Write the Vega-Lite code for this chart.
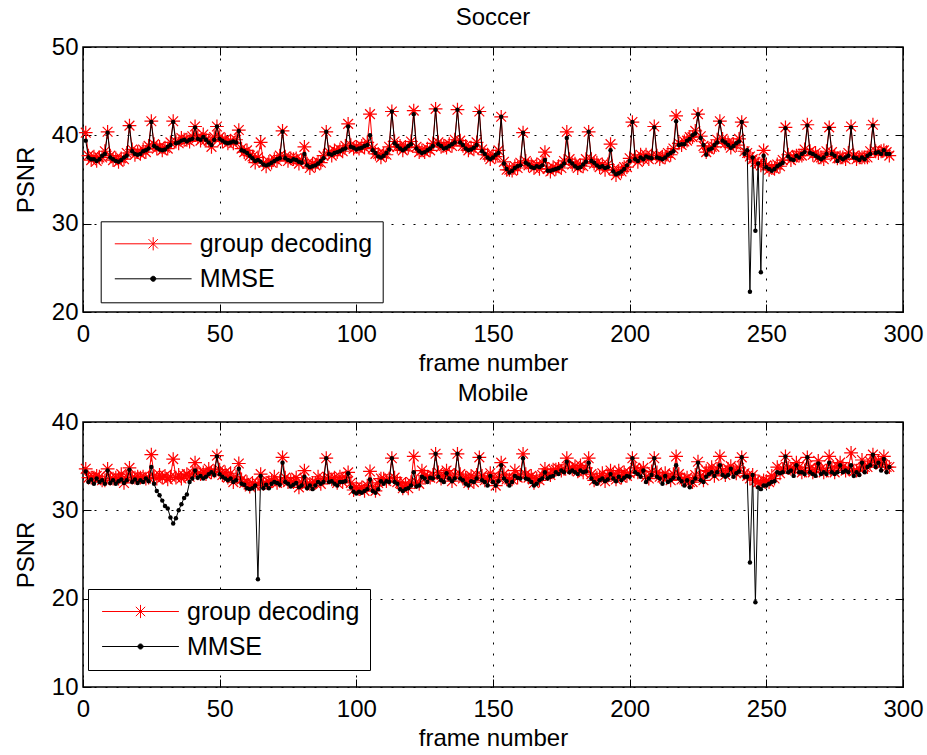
{
"$schema": "https://vega.github.io/schema/vega-lite/v6.json",
"background": "white",
"padding": {"left": 13, "top": 5, "right": 5, "bottom": 5},
"datasets": {
"soccer": [
{"f":1,"g":40.3,"m":39.4},{"f":2,"g":37.7,"m":37.5},{"f":3,"g":37.2,"m":37.3},{"f":4,"g":37.6,"m":37.3},{"f":5,"g":37.1,"m":37.1},{"f":6,"g":37.5,"m":37.3},{"f":7,"g":37.5,"m":37.7},{"f":8,"g":38.2,"m":37.9},
{"f":9,"g":40.4,"m":40.3},{"f":10,"g":37.7,"m":37.5},{"f":11,"g":37.2,"m":37.3},{"f":12,"g":37.4,"m":37.1},{"f":13,"g":37.0,"m":37.0},{"f":14,"g":37.4,"m":37.2},{"f":15,"g":37.3,"m":37.5},{"f":16,"g":38.0,"m":37.7},
{"f":17,"g":41.1,"m":41.0},{"f":18,"g":38.4,"m":38.2},{"f":19,"g":37.8,"m":37.9},{"f":20,"g":38.1,"m":37.8},{"f":21,"g":37.9,"m":37.9},{"f":22,"g":38.4,"m":38.2},{"f":23,"g":38.1,"m":38.3},{"f":24,"g":38.8,"m":38.5},
{"f":25,"g":41.6,"m":41.5},{"f":26,"g":39.0,"m":38.8},{"f":27,"g":38.5,"m":38.6},{"f":28,"g":38.7,"m":38.4},{"f":29,"g":38.3,"m":38.3},{"f":30,"g":38.6,"m":38.4},{"f":31,"g":38.5,"m":38.7},{"f":32,"g":39.2,"m":38.9},
{"f":33,"g":41.6,"m":41.5},{"f":34,"g":39.3,"m":39.1},{"f":35,"g":39.1,"m":39.2},{"f":36,"g":39.7,"m":39.4},{"f":37,"g":39.5,"m":39.5},{"f":38,"g":39.5,"m":39.3},{"f":39,"g":39.3,"m":39.5},{"f":40,"g":39.9,"m":39.6},
{"f":41,"g":41.0,"m":40.9},{"f":42,"g":39.8,"m":39.6},{"f":43,"g":39.4,"m":39.5},{"f":44,"g":40.1,"m":39.8},{"f":45,"g":39.5,"m":39.5},{"f":46,"g":39.4,"m":39.2},{"f":47,"g":38.7,"m":38.9},{"f":48,"g":39.8,"m":39.5},
{"f":49,"g":41.0,"m":41.0},{"f":50,"g":39.8,"m":39.6},{"f":51,"g":39.3,"m":39.4},{"f":52,"g":39.5,"m":39.2},{"f":53,"g":39.1,"m":39.1},{"f":54,"g":39.4,"m":39.2},{"f":55,"g":39.1,"m":39.3},{"f":56,"g":39.5,"m":39.2},
{"f":57,"g":40.6,"m":40.5},{"f":58,"g":38.5,"m":38.3},{"f":59,"g":38.1,"m":38.2},{"f":60,"g":38.3,"m":38.0},{"f":61,"g":37.7,"m":37.7},{"f":62,"g":37.6,"m":37.4},{"f":63,"g":36.9,"m":37.1},{"f":64,"g":37.5,"m":37.2},
{"f":65,"g":39.2,"m":37.0},{"f":66,"g":36.9,"m":36.7},{"f":67,"g":36.5,"m":36.6},{"f":68,"g":37.0,"m":36.7},{"f":69,"g":36.9,"m":36.9},{"f":70,"g":37.3,"m":37.1},{"f":71,"g":37.1,"m":37.3},{"f":72,"g":37.7,"m":37.4},
{"f":73,"g":40.5,"m":40.4},{"f":74,"g":37.6,"m":37.4},{"f":75,"g":37.1,"m":37.2},{"f":76,"g":37.4,"m":37.1},{"f":77,"g":37.3,"m":37.3},{"f":78,"g":37.4,"m":37.2},{"f":79,"g":36.8,"m":37.0},{"f":80,"g":37.2,"m":36.9},
{"f":81,"g":38.7,"m":37.9},{"f":82,"g":36.8,"m":36.6},{"f":83,"g":36.3,"m":36.4},{"f":84,"g":36.8,"m":36.5},{"f":85,"g":36.6,"m":36.6},{"f":86,"g":37.0,"m":36.8},{"f":87,"g":36.9,"m":37.1},{"f":88,"g":37.7,"m":37.4},
{"f":89,"g":40.4,"m":40.4},{"f":90,"g":38.1,"m":37.9},{"f":91,"g":37.7,"m":37.8},{"f":92,"g":38.3,"m":38.0},{"f":93,"g":38.1,"m":38.1},{"f":94,"g":38.4,"m":38.2},{"f":95,"g":38.2,"m":38.4},{"f":96,"g":38.8,"m":38.5},
{"f":97,"g":41.3,"m":41.0},{"f":98,"g":38.9,"m":38.7},{"f":99,"g":38.5,"m":38.6},{"f":100,"g":38.7,"m":38.4},{"f":101,"g":38.5,"m":38.5},{"f":102,"g":38.8,"m":38.6},{"f":103,"g":38.6,"m":38.8},{"f":104,"g":39.2,"m":38.9},
{"f":105,"g":42.4,"m":40.0},{"f":106,"g":38.5,"m":38.3},{"f":107,"g":37.9,"m":38.0},{"f":108,"g":37.9,"m":37.6},{"f":109,"g":37.5,"m":37.5},{"f":110,"g":37.9,"m":37.7},{"f":111,"g":37.8,"m":38.0},{"f":112,"g":38.7,"m":38.4},
{"f":113,"g":42.7,"m":42.7},{"f":114,"g":39.3,"m":39.1},{"f":115,"g":38.7,"m":38.8},{"f":116,"g":38.8,"m":38.5},{"f":117,"g":38.3,"m":38.3},{"f":118,"g":38.7,"m":38.5},{"f":119,"g":38.6,"m":38.8},{"f":120,"g":39.3,"m":39.0},
{"f":121,"g":42.8,"m":42.4},{"f":122,"g":38.7,"m":38.5},{"f":123,"g":38.1,"m":38.2},{"f":124,"g":38.3,"m":38.0},{"f":125,"g":38.1,"m":38.1},{"f":126,"g":38.5,"m":38.3},{"f":127,"g":38.3,"m":38.5},{"f":128,"g":39.1,"m":38.8},
{"f":129,"g":43.0,"m":42.9},{"f":130,"g":39.2,"m":39.0},{"f":131,"g":38.7,"m":38.8},{"f":132,"g":38.8,"m":38.5},{"f":133,"g":38.6,"m":38.6},{"f":134,"g":39.0,"m":38.8},{"f":135,"g":38.8,"m":39.0},{"f":136,"g":39.5,"m":39.2},
{"f":137,"g":42.9,"m":42.9},{"f":138,"g":39.4,"m":39.2},{"f":139,"g":38.8,"m":38.9},{"f":140,"g":38.8,"m":38.5},{"f":141,"g":38.3,"m":38.3},{"f":142,"g":38.6,"m":38.4},{"f":143,"g":38.4,"m":38.6},{"f":144,"g":39.2,"m":38.9},
{"f":145,"g":42.7,"m":42.6},{"f":146,"g":38.4,"m":38.2},{"f":147,"g":37.8,"m":37.9},{"f":148,"g":37.8,"m":37.5},{"f":149,"g":37.3,"m":37.3},{"f":150,"g":37.7,"m":37.5},{"f":151,"g":37.6,"m":37.8},{"f":152,"g":38.3,"m":38.0},
{"f":153,"g":42.1,"m":42.1},{"f":154,"g":37.0,"m":36.8},{"f":155,"g":36.1,"m":36.2},{"f":156,"g":36.1,"m":35.8},{"f":157,"g":36.0,"m":36.0},{"f":158,"g":36.5,"m":36.3},{"f":159,"g":36.3,"m":36.5},{"f":160,"g":36.9,"m":36.6},
{"f":161,"g":40.3,"m":40.3},{"f":162,"g":37.1,"m":36.9},{"f":163,"g":36.6,"m":36.7},{"f":164,"g":36.7,"m":36.4},{"f":165,"g":36.3,"m":36.3},{"f":166,"g":36.7,"m":36.5},{"f":167,"g":36.2,"m":36.4},{"f":168,"g":36.9,"m":36.6},
{"f":169,"g":38.1,"m":37.2},{"f":170,"g":36.2,"m":36.0},{"f":171,"g":35.9,"m":36.0},{"f":172,"g":36.4,"m":36.1},{"f":173,"g":36.2,"m":36.2},{"f":174,"g":36.5,"m":36.3},{"f":175,"g":36.3,"m":36.5},{"f":176,"g":37.1,"m":36.8},
{"f":177,"g":40.4,"m":39.7},{"f":178,"g":37.3,"m":37.1},{"f":179,"g":36.7,"m":36.8},{"f":180,"g":36.8,"m":36.5},{"f":181,"g":36.3,"m":36.3},{"f":182,"g":36.6,"m":36.4},{"f":183,"g":36.5,"m":36.7},{"f":184,"g":37.3,"m":37.0},
{"f":185,"g":40.4,"m":40.4},{"f":186,"g":37.3,"m":37.1},{"f":187,"g":36.8,"m":36.9},{"f":188,"g":36.9,"m":36.6},{"f":189,"g":36.4,"m":36.4},{"f":190,"g":36.7,"m":36.5},{"f":191,"g":36.1,"m":36.3},{"f":192,"g":36.7,"m":36.4},
{"f":193,"g":39.0,"m":38.3},{"f":194,"g":36.1,"m":35.9},{"f":195,"g":35.5,"m":35.6},{"f":196,"g":36.0,"m":35.7},{"f":197,"g":35.9,"m":35.9},{"f":198,"g":36.4,"m":36.2},{"f":199,"g":36.4,"m":36.6},{"f":200,"g":37.4,"m":37.1},
{"f":201,"g":41.5,"m":41.5},{"f":202,"g":37.5,"m":37.3},{"f":203,"g":37.0,"m":37.1},{"f":204,"g":37.8,"m":37.5},{"f":205,"g":37.3,"m":37.3},{"f":206,"g":37.8,"m":37.6},{"f":207,"g":37.3,"m":37.5},{"f":208,"g":37.7,"m":37.4},
{"f":209,"g":41.0,"m":40.9},{"f":210,"g":37.7,"m":37.5},{"f":211,"g":37.3,"m":37.4},{"f":212,"g":37.6,"m":37.3},{"f":213,"g":37.5,"m":37.5},{"f":214,"g":38.0,"m":37.8},{"f":215,"g":37.8,"m":38.0},{"f":216,"g":38.5,"m":38.2},
{"f":217,"g":42.2,"m":41.6},{"f":218,"g":39.1,"m":38.9},{"f":219,"g":38.9,"m":39.0},{"f":220,"g":39.3,"m":39.0},{"f":221,"g":39.4,"m":39.4},{"f":222,"g":39.8,"m":39.6},{"f":223,"g":39.8,"m":40.0},{"f":224,"g":40.5,"m":40.2},
{"f":225,"g":42.4,"m":42.4},{"f":226,"g":39.9,"m":39.7},{"f":227,"g":38.8,"m":38.9},{"f":228,"g":38.1,"m":37.8},{"f":229,"g":38.4,"m":38.4},{"f":230,"g":38.7,"m":38.5},{"f":231,"g":38.7,"m":38.9},{"f":232,"g":39.5,"m":39.2},
{"f":233,"g":41.6,"m":41.5},{"f":234,"g":39.6,"m":39.4},{"f":235,"g":39.1,"m":39.2},{"f":236,"g":39.2,"m":38.9},{"f":237,"g":38.6,"m":38.6},{"f":238,"g":39.0,"m":38.8},{"f":239,"g":38.9,"m":39.1},{"f":240,"g":39.6,"m":39.3},
{"f":241,"g":41.5,"m":41.5},{"f":242,"g":38.2,"m":37.9},{"f":243,"g":38.0,"m":38.3},{"f":244,"g":37.6,"m":22.3},{"f":245,"g":37.3,"m":37.5},{"f":246,"g":37.0,"m":29.2},{"f":247,"g":36.8,"m":36.8},{"f":248,"g":36.6,"m":24.5},
{"f":249,"g":38.3,"m":37.7},{"f":250,"g":36.6,"m":36.4},{"f":251,"g":36.1,"m":36.2},{"f":252,"g":36.3,"m":36.0},{"f":253,"g":36.2,"m":36.2},{"f":254,"g":36.7,"m":36.5},{"f":255,"g":36.5,"m":36.7},{"f":256,"g":37.2,"m":36.9},
{"f":257,"g":40.9,"m":40.8},{"f":258,"g":37.8,"m":37.6},{"f":259,"g":37.2,"m":37.3},{"f":260,"g":37.5,"m":37.2},{"f":261,"g":37.7,"m":37.7},{"f":262,"g":37.7,"m":37.5},{"f":263,"g":37.7,"m":37.9},{"f":264,"g":38.4,"m":38.1},
{"f":265,"g":41.2,"m":41.1},{"f":266,"g":38.2,"m":38.0},{"f":267,"g":37.8,"m":37.9},{"f":268,"g":38.0,"m":37.7},{"f":269,"g":37.5,"m":37.5},{"f":270,"g":37.5,"m":37.3},{"f":271,"g":37.3,"m":37.5},{"f":272,"g":38.2,"m":37.9},
{"f":273,"g":40.9,"m":40.8},{"f":274,"g":38.1,"m":37.9},{"f":275,"g":37.6,"m":37.7},{"f":276,"g":37.4,"m":37.1},{"f":277,"g":37.5,"m":37.5},{"f":278,"g":37.5,"m":37.3},{"f":279,"g":37.3,"m":37.5},{"f":280,"g":38.0,"m":37.7},
{"f":281,"g":41.0,"m":40.9},{"f":282,"g":37.7,"m":37.5},{"f":283,"g":37.3,"m":37.4},{"f":284,"g":37.5,"m":37.2},{"f":285,"g":37.5,"m":37.5},{"f":286,"g":37.5,"m":37.3},{"f":287,"g":37.5,"m":37.7},{"f":288,"g":38.2,"m":37.9},
{"f":289,"g":41.2,"m":41.1},{"f":290,"g":38.2,"m":38.0},{"f":291,"g":38.0,"m":38.1},{"f":292,"g":38.2,"m":37.9},{"f":293,"g":38.3,"m":38.3},{"f":294,"g":38.1,"m":37.9},{"f":295,"g":37.7,"m":37.9}
],
"mobile": [
{"f":1,"g":34.7,"m":34.4},{"f":2,"g":33.7,"m":33.2},{"f":3,"g":33.7,"m":33.5},{"f":4,"g":33.7,"m":33.0},{"f":5,"g":33.9,"m":33.6},{"f":6,"g":33.8,"m":33.2},{"f":7,"g":33.4,"m":33.4},{"f":8,"g":33.4,"m":33.0},
{"f":9,"g":34.7,"m":34.5},{"f":10,"g":33.6,"m":33.1},{"f":11,"g":33.6,"m":33.4},{"f":12,"g":33.7,"m":33.0},{"f":13,"g":33.6,"m":33.3},{"f":14,"g":34.1,"m":33.5},{"f":15,"g":33.1,"m":33.1},{"f":16,"g":33.8,"m":33.4},
{"f":17,"g":34.8,"m":34.6},{"f":18,"g":33.7,"m":33.2},{"f":19,"g":33.7,"m":33.5},{"f":20,"g":33.8,"m":33.1},{"f":21,"g":33.7,"m":33.4},{"f":22,"g":33.8,"m":33.2},{"f":23,"g":33.6,"m":33.6},{"f":24,"g":33.7,"m":33.3},
{"f":25,"g":36.3,"m":34.9},{"f":26,"g":33.9,"m":33.0},{"f":27,"g":33.6,"m":32.2},{"f":28,"g":34.0,"m":31.7},{"f":29,"g":33.7,"m":31.1},{"f":30,"g":33.9,"m":30.5},{"f":31,"g":33.5,"m":30.2},{"f":32,"g":33.8,"m":29.2},
{"f":33,"g":35.8,"m":28.5},{"f":34,"g":33.7,"m":29.1},{"f":35,"g":34.0,"m":30.0},{"f":36,"g":33.6,"m":30.7},{"f":37,"g":33.9,"m":31.4},{"f":38,"g":34.1,"m":31.8},{"f":39,"g":33.8,"m":33.2},{"f":40,"g":34.2,"m":33.6},
{"f":41,"g":35.4,"m":34.5},{"f":42,"g":34.2,"m":33.7},{"f":43,"g":34.1,"m":33.9},{"f":44,"g":34.3,"m":33.6},{"f":45,"g":34.1,"m":33.8},{"f":46,"g":34.7,"m":34.1},{"f":47,"g":34.3,"m":34.3},{"f":48,"g":34.4,"m":34.0},
{"f":49,"g":36.2,"m":36.1},{"f":50,"g":34.6,"m":34.1},{"f":51,"g":34.0,"m":33.8},{"f":52,"g":34.3,"m":33.6},{"f":53,"g":33.7,"m":33.4},{"f":54,"g":34.2,"m":33.6},{"f":55,"g":33.2,"m":33.2},{"f":56,"g":33.8,"m":33.4},
{"f":57,"g":35.3,"m":34.7},{"f":58,"g":33.5,"m":33.0},{"f":59,"g":33.1,"m":32.9},{"f":60,"g":33.2,"m":32.5},{"f":61,"g":32.7,"m":32.4},{"f":62,"g":33.1,"m":32.5},{"f":63,"g":32.8,"m":32.8},{"f":64,"g":33.0,"m":22.2},
{"f":65,"g":34.1,"m":33.9},{"f":66,"g":33.0,"m":32.5},{"f":67,"g":33.1,"m":32.9},{"f":68,"g":33.2,"m":32.5},{"f":69,"g":33.3,"m":33.0},{"f":70,"g":33.8,"m":33.2},{"f":71,"g":33.1,"m":33.1},{"f":72,"g":33.3,"m":32.9},
{"f":73,"g":36.0,"m":35.4},{"f":74,"g":33.7,"m":33.2},{"f":75,"g":33.2,"m":33.0},{"f":76,"g":33.4,"m":32.7},{"f":77,"g":33.2,"m":32.9},{"f":78,"g":33.7,"m":33.1},{"f":79,"g":32.6,"m":32.6},{"f":80,"g":33.2,"m":32.8},
{"f":81,"g":34.5,"m":33.8},{"f":82,"g":33.0,"m":32.5},{"f":83,"g":33.0,"m":32.8},{"f":84,"g":33.1,"m":32.4},{"f":85,"g":33.1,"m":32.8},{"f":86,"g":33.8,"m":33.2},{"f":87,"g":33.0,"m":33.0},{"f":88,"g":33.6,"m":33.2},
{"f":89,"g":35.9,"m":35.9},{"f":90,"g":33.7,"m":33.2},{"f":91,"g":33.5,"m":33.3},{"f":92,"g":33.7,"m":33.0},{"f":93,"g":33.1,"m":32.8},{"f":94,"g":33.8,"m":33.2},{"f":95,"g":33.2,"m":33.2},{"f":96,"g":33.7,"m":33.3},
{"f":97,"g":34.3,"m":34.2},{"f":98,"g":33.1,"m":32.6},{"f":99,"g":32.3,"m":32.1},{"f":100,"g":32.6,"m":31.9},{"f":101,"g":32.4,"m":32.1},{"f":102,"g":32.6,"m":32.0},{"f":103,"g":32.2,"m":32.2},{"f":104,"g":32.8,"m":32.4},
{"f":105,"g":34.4,"m":33.5},{"f":106,"g":32.7,"m":32.2},{"f":107,"g":32.2,"m":32.0},{"f":108,"g":33.1,"m":32.4},{"f":109,"g":33.6,"m":33.3},{"f":110,"g":33.6,"m":33.0},{"f":111,"g":33.3,"m":33.3},{"f":112,"g":33.6,"m":33.2},
{"f":113,"g":35.9,"m":35.9},{"f":114,"g":33.7,"m":33.2},{"f":115,"g":33.2,"m":33.0},{"f":116,"g":33.1,"m":32.4},{"f":117,"g":32.5,"m":32.2},{"f":118,"g":33.0,"m":32.4},{"f":119,"g":32.5,"m":32.5},{"f":120,"g":33.2,"m":32.8},
{"f":121,"g":36.1,"m":34.3},{"f":122,"g":33.2,"m":32.7},{"f":123,"g":33.0,"m":32.8},{"f":124,"g":34.5,"m":33.8},{"f":125,"g":33.9,"m":33.6},{"f":126,"g":33.8,"m":33.2},{"f":127,"g":33.7,"m":33.7},{"f":128,"g":34.0,"m":33.6},
{"f":129,"g":36.4,"m":36.4},{"f":130,"g":34.3,"m":33.8},{"f":131,"g":33.6,"m":33.4},{"f":132,"g":33.9,"m":33.2},{"f":133,"g":34.5,"m":34.2},{"f":134,"g":34.2,"m":33.6},{"f":135,"g":33.3,"m":33.3},{"f":136,"g":34.0,"m":33.6},
{"f":137,"g":36.4,"m":36.4},{"f":138,"g":34.1,"m":33.6},{"f":139,"g":33.6,"m":33.4},{"f":140,"g":33.7,"m":33.0},{"f":141,"g":33.1,"m":32.8},{"f":142,"g":33.9,"m":33.3},{"f":143,"g":33.2,"m":33.2},{"f":144,"g":34.0,"m":33.6},
{"f":145,"g":36.0,"m":36.0},{"f":146,"g":33.9,"m":33.4},{"f":147,"g":33.4,"m":33.2},{"f":148,"g":33.5,"m":32.8},{"f":149,"g":34.2,"m":33.9},{"f":150,"g":33.8,"m":33.2},{"f":151,"g":32.8,"m":32.8},{"f":152,"g":33.7,"m":33.3},
{"f":153,"g":35.4,"m":35.1},{"f":154,"g":34.1,"m":33.6},{"f":155,"g":33.5,"m":33.3},{"f":156,"g":33.5,"m":32.8},{"f":157,"g":33.5,"m":33.2},{"f":158,"g":34.5,"m":33.9},{"f":159,"g":33.7,"m":33.7},{"f":160,"g":34.0,"m":33.6},
{"f":161,"g":36.4,"m":35.9},{"f":162,"g":34.1,"m":33.6},{"f":163,"g":33.7,"m":33.5},{"f":164,"g":33.9,"m":33.2},{"f":165,"g":33.1,"m":32.8},{"f":166,"g":33.6,"m":33.0},{"f":167,"g":33.4,"m":33.4},{"f":168,"g":34.0,"m":33.6},
{"f":169,"g":34.7,"m":34.3},{"f":170,"g":34.1,"m":33.6},{"f":171,"g":34.0,"m":33.8},{"f":172,"g":34.6,"m":33.9},{"f":173,"g":34.6,"m":34.3},{"f":174,"g":34.7,"m":34.1},{"f":175,"g":34.5,"m":34.5},{"f":176,"g":34.7,"m":34.3},
{"f":177,"g":35.9,"m":35.5},{"f":178,"g":34.8,"m":34.3},{"f":179,"g":34.7,"m":34.5},{"f":180,"g":35.0,"m":34.3},{"f":181,"g":34.4,"m":34.1},{"f":182,"g":35.1,"m":34.5},{"f":183,"g":34.3,"m":34.3},{"f":184,"g":34.8,"m":34.4},
{"f":185,"g":35.9,"m":35.4},{"f":186,"g":34.1,"m":33.6},{"f":187,"g":33.4,"m":33.2},{"f":188,"g":33.7,"m":33.0},{"f":189,"g":33.7,"m":33.4},{"f":190,"g":34.2,"m":33.6},{"f":191,"g":33.3,"m":33.3},{"f":192,"g":33.9,"m":33.5},
{"f":193,"g":34.5,"m":34.1},{"f":194,"g":34.1,"m":33.6},{"f":195,"g":33.5,"m":33.3},{"f":196,"g":34.5,"m":33.8},{"f":197,"g":33.7,"m":33.4},{"f":198,"g":34.3,"m":33.7},{"f":199,"g":33.9,"m":33.9},{"f":200,"g":34.2,"m":33.8},
{"f":201,"g":35.9,"m":35.9},{"f":202,"g":34.8,"m":34.3},{"f":203,"g":34.3,"m":34.1},{"f":204,"g":34.5,"m":33.8},{"f":205,"g":34.8,"m":34.5},{"f":206,"g":33.8,"m":33.2},{"f":207,"g":33.6,"m":33.6},{"f":208,"g":34.4,"m":34.0},
{"f":209,"g":35.9,"m":35.9},{"f":210,"g":34.3,"m":33.8},{"f":211,"g":33.8,"m":33.6},{"f":212,"g":33.7,"m":33.0},{"f":213,"g":34.2,"m":33.9},{"f":214,"g":33.8,"m":33.2},{"f":215,"g":33.4,"m":33.4},{"f":216,"g":34.1,"m":33.7},
{"f":217,"g":36.1,"m":35.1},{"f":218,"g":34.1,"m":33.6},{"f":219,"g":33.5,"m":33.3},{"f":220,"g":33.5,"m":32.8},{"f":221,"g":33.7,"m":33.4},{"f":222,"g":33.2,"m":32.6},{"f":223,"g":33.2,"m":33.2},{"f":224,"g":34.0,"m":33.6},
{"f":225,"g":35.5,"m":35.4},{"f":226,"g":33.9,"m":33.4},{"f":227,"g":33.4,"m":33.2},{"f":228,"g":34.5,"m":33.8},{"f":229,"g":34.4,"m":34.1},{"f":230,"g":34.9,"m":34.3},{"f":231,"g":33.9,"m":33.9},{"f":232,"g":34.7,"m":34.3},
{"f":233,"g":36.1,"m":35.1},{"f":234,"g":34.5,"m":34.0},{"f":235,"g":34.0,"m":33.8},{"f":236,"g":34.7,"m":34.0},{"f":237,"g":35.0,"m":34.7},{"f":238,"g":34.4,"m":33.8},{"f":239,"g":34.2,"m":34.2},{"f":240,"g":34.8,"m":34.4},
{"f":241,"g":36.0,"m":36.0},{"f":242,"g":34.2,"m":33.8},{"f":243,"g":33.9,"m":33.8},{"f":244,"g":33.6,"m":24.1},{"f":245,"g":34.0,"m":34.0},{"f":246,"g":33.4,"m":19.6},{"f":247,"g":33.2,"m":32.6},{"f":248,"g":33.0,"m":32.4},
{"f":249,"g":33.4,"m":32.8},{"f":250,"g":33.3,"m":32.8},{"f":251,"g":33.2,"m":33.0},{"f":252,"g":33.9,"m":33.2},{"f":253,"g":33.6,"m":33.3},{"f":254,"g":34.9,"m":34.3},{"f":255,"g":34.2,"m":34.2},{"f":256,"g":34.7,"m":34.3},
{"f":257,"g":36.1,"m":36.1},{"f":258,"g":34.8,"m":34.3},{"f":259,"g":34.7,"m":34.5},{"f":260,"g":34.6,"m":33.9},{"f":261,"g":35.4,"m":35.1},{"f":262,"g":34.9,"m":34.3},{"f":263,"g":34.3,"m":34.3},{"f":264,"g":34.5,"m":34.1},
{"f":265,"g":36.0,"m":36.0},{"f":266,"g":34.8,"m":34.3},{"f":267,"g":34.3,"m":34.1},{"f":268,"g":34.6,"m":33.9},{"f":269,"g":35.6,"m":35.3},{"f":270,"g":34.7,"m":34.1},{"f":271,"g":34.3,"m":34.3},{"f":272,"g":34.5,"m":34.1},
{"f":273,"g":36.1,"m":35.4},{"f":274,"g":34.8,"m":34.3},{"f":275,"g":34.3,"m":34.1},{"f":276,"g":35.0,"m":34.3},{"f":277,"g":35.4,"m":35.1},{"f":278,"g":34.9,"m":34.3},{"f":279,"g":34.5,"m":34.5},{"f":280,"g":34.7,"m":34.3},
{"f":281,"g":36.5,"m":35.1},{"f":282,"g":34.4,"m":33.9},{"f":283,"g":34.5,"m":34.3},{"f":284,"g":34.7,"m":34.0},{"f":285,"g":35.7,"m":35.4},{"f":286,"g":34.9,"m":34.3},{"f":287,"g":34.9,"m":34.9},{"f":288,"g":35.5,"m":35.1},
{"f":289,"g":36.3,"m":36.3},{"f":290,"g":35.4,"m":34.9},{"f":291,"g":35.6,"m":35.4},{"f":292,"g":35.2,"m":34.5},{"f":293,"g":36.1,"m":35.8},{"f":294,"g":34.9,"m":34.3},{"f":295,"g":34.9,"m":34.9}
]
},
"vconcat": [
{
"width": 820, "height": 265,
"title": {"text": "Soccer", "offset": -14, "baseline": "alphabetic", "frame": "group"},
"data": {"name": "soccer"},
"resolve": {"axis": {"x": "independent", "y": "independent"}},
"layer": [
{"mark": {"type": "line", "strokeWidth": 1},
 "encoding": {
  "x": {"field": "f", "type": "quantitative", "scale": {"domain": [0, 300], "nice": false}, "axis": {"title": "frame number", "values": [0, 50, 100, 150, 200, 250, 300], "grid": true, "tickSize": -8, "labelPadding": 18, "titlePadding": 5, "labelFlush": false}},
  "y": {"field": "g", "type": "quantitative", "scale": {"domain": [20, 50], "nice": false, "zero": false}, "axis": {"title": "PSNR", "values": [20, 30, 40, 50], "grid": true, "tickSize": -8, "labelPadding": 13, "titlePadding": 13}},
  "color": {"datum": "group decoding", "type": "nominal", "scale": {"domain": ["group decoding", "MMSE"], "range": ["red", "black"]},
   "legend": {"orient": "none", "legendX": 17.7, "legendY": 174.3, "title": null, "fillColor": "white", "strokeColor": "black", "padding": 10, "symbolSize": 576, "symbolOffset": 30, "labelOffset": 34, "labelFontSize": 25, "labelLimit": 0, "rowPadding": 9, "symbolStrokeWidth": 1,
    "encode": {"symbols": {"update": {
     "shape": {"signal": "datum.value === 'MMSE' ? 'M-3.2,0H3.2M0.21,0A0.21,0.21,0,1,1,-0.21,0A0.21,0.21,0,1,1,0.21,0Z' : 'M-3.2,0H3.2M0,-0.55V0.55M-0.39,-0.39L0.39,0.39M-0.39,0.39L0.39,-0.39'"},
     "stroke": {"signal": "datum.value === 'MMSE' ? 'black' : 'red'"},
     "fill": {"signal": "datum.value === 'MMSE' ? 'black' : 'red'"},
     "strokeWidth": {"value": 1}, "opacity": {"value": 1}}}}}}
 }},
{"mark": {"type": "point", "shape": "M-1,0H1M0,-1V1M-0.71,-0.71L0.71,0.71M-0.71,0.71L0.71,-0.71", "size": 190, "filled": false, "stroke": "red", "strokeWidth": 1.2, "opacity": 1},
 "encoding": {
  "x": {"field": "f", "type": "quantitative", "axis": {"orient": "top", "labels": false, "title": null, "grid": false, "tickSize": -8, "minExtent": 0, "maxExtent": 0, "values": [0, 50, 100, 150, 200, 250, 300]}},
  "y": {"field": "g", "type": "quantitative", "axis": {"orient": "right", "labels": false, "title": null, "grid": false, "tickSize": -8, "minExtent": 0, "maxExtent": 0, "values": [20, 30, 40, 50]}}
 }},
{"mark": {"type": "line", "strokeWidth": 1},
 "encoding": {
  "x": {"field": "f", "type": "quantitative", "axis": null},
  "y": {"field": "m", "type": "quantitative", "axis": null},
  "color": {"datum": "MMSE", "type": "nominal"}
 }},
{"mark": {"type": "point", "shape": "circle", "size": 20, "filled": true, "color": "black", "opacity": 1},
 "encoding": {
  "x": {"field": "f", "type": "quantitative", "axis": null},
  "y": {"field": "m", "type": "quantitative", "axis": null}
 }}
]
},
{
"width": 820, "height": 265,
"title": {"text": "Mobile", "offset": -15, "baseline": "alphabetic", "frame": "group"},
"data": {"name": "mobile"},
"resolve": {"axis": {"x": "independent", "y": "independent"}},
"layer": [
{"mark": {"type": "line", "strokeWidth": 1},
 "encoding": {
  "x": {"field": "f", "type": "quantitative", "scale": {"domain": [0, 300], "nice": false}, "axis": {"title": "frame number", "values": [0, 50, 100, 150, 200, 250, 300], "grid": true, "tickSize": -8, "labelPadding": 18, "titlePadding": 5, "labelFlush": false}},
  "y": {"field": "g", "type": "quantitative", "scale": {"domain": [10, 40], "nice": false, "zero": false}, "axis": {"title": "PSNR", "values": [10, 20, 30, 40], "grid": true, "tickSize": -8, "labelPadding": 13, "titlePadding": 13}},
  "color": {"datum": "group decoding", "type": "nominal", "scale": {"domain": ["group decoding", "MMSE"], "range": ["red", "black"]},
   "legend": {"orient": "none", "legendX": 5, "legendY": 167, "title": null, "fillColor": "white", "strokeColor": "black", "padding": 10, "symbolSize": 576, "symbolOffset": 30, "labelOffset": 34, "labelFontSize": 25, "labelLimit": 0, "rowPadding": 9, "symbolStrokeWidth": 1,
    "encode": {"symbols": {"update": {
     "shape": {"signal": "datum.value === 'MMSE' ? 'M-3.2,0H3.2M0.21,0A0.21,0.21,0,1,1,-0.21,0A0.21,0.21,0,1,1,0.21,0Z' : 'M-3.2,0H3.2M0,-0.55V0.55M-0.39,-0.39L0.39,0.39M-0.39,0.39L0.39,-0.39'"},
     "stroke": {"signal": "datum.value === 'MMSE' ? 'black' : 'red'"},
     "fill": {"signal": "datum.value === 'MMSE' ? 'black' : 'red'"},
     "strokeWidth": {"value": 1}, "opacity": {"value": 1}}}}}}
 }},
{"mark": {"type": "point", "shape": "M-1,0H1M0,-1V1M-0.71,-0.71L0.71,0.71M-0.71,0.71L0.71,-0.71", "size": 190, "filled": false, "stroke": "red", "strokeWidth": 1.2, "opacity": 1},
 "encoding": {
  "x": {"field": "f", "type": "quantitative", "axis": {"orient": "top", "labels": false, "title": null, "grid": false, "tickSize": -8, "minExtent": 0, "maxExtent": 0, "values": [0, 50, 100, 150, 200, 250, 300]}},
  "y": {"field": "g", "type": "quantitative", "axis": {"orient": "right", "labels": false, "title": null, "grid": false, "tickSize": -8, "minExtent": 0, "maxExtent": 0, "values": [10, 20, 30, 40]}}
 }},
{"mark": {"type": "line", "strokeWidth": 1},
 "encoding": {
  "x": {"field": "f", "type": "quantitative", "axis": null},
  "y": {"field": "m", "type": "quantitative", "axis": null},
  "color": {"datum": "MMSE", "type": "nominal"}
 }},
{"mark": {"type": "point", "shape": "circle", "size": 20, "filled": true, "color": "black", "opacity": 1},
 "encoding": {
  "x": {"field": "f", "type": "quantitative", "axis": null},
  "y": {"field": "m", "type": "quantitative", "axis": null}
 }}
]
}
],
"spacing": 110,
"bounds": "flush",
"resolve": {"scale": {"color": "independent"}, "legend": {"color": "independent"}},
"config": {
 "font": "Liberation Sans",
 "view": {"stroke": "black", "strokeWidth": 1.5},
 "axis": {"labelFont": "Liberation Sans", "titleFont": "Liberation Sans", "labelFontSize": 24, "titleFontSize": 24, "titleFontWeight": "normal", "labelColor": "black", "titleColor": "black", "tickColor": "black", "tickWidth": 1, "domain": false, "gridColor": "black", "gridDash": [2, 9], "gridOpacity": 1, "gridWidth": 1},
 "legend": {"labelFont": "Liberation Sans", "labelColor": "black"},
 "title": {"font": "Liberation Sans", "fontSize": 24, "fontWeight": "normal", "color": "black", "anchor": "middle"}
}
}
